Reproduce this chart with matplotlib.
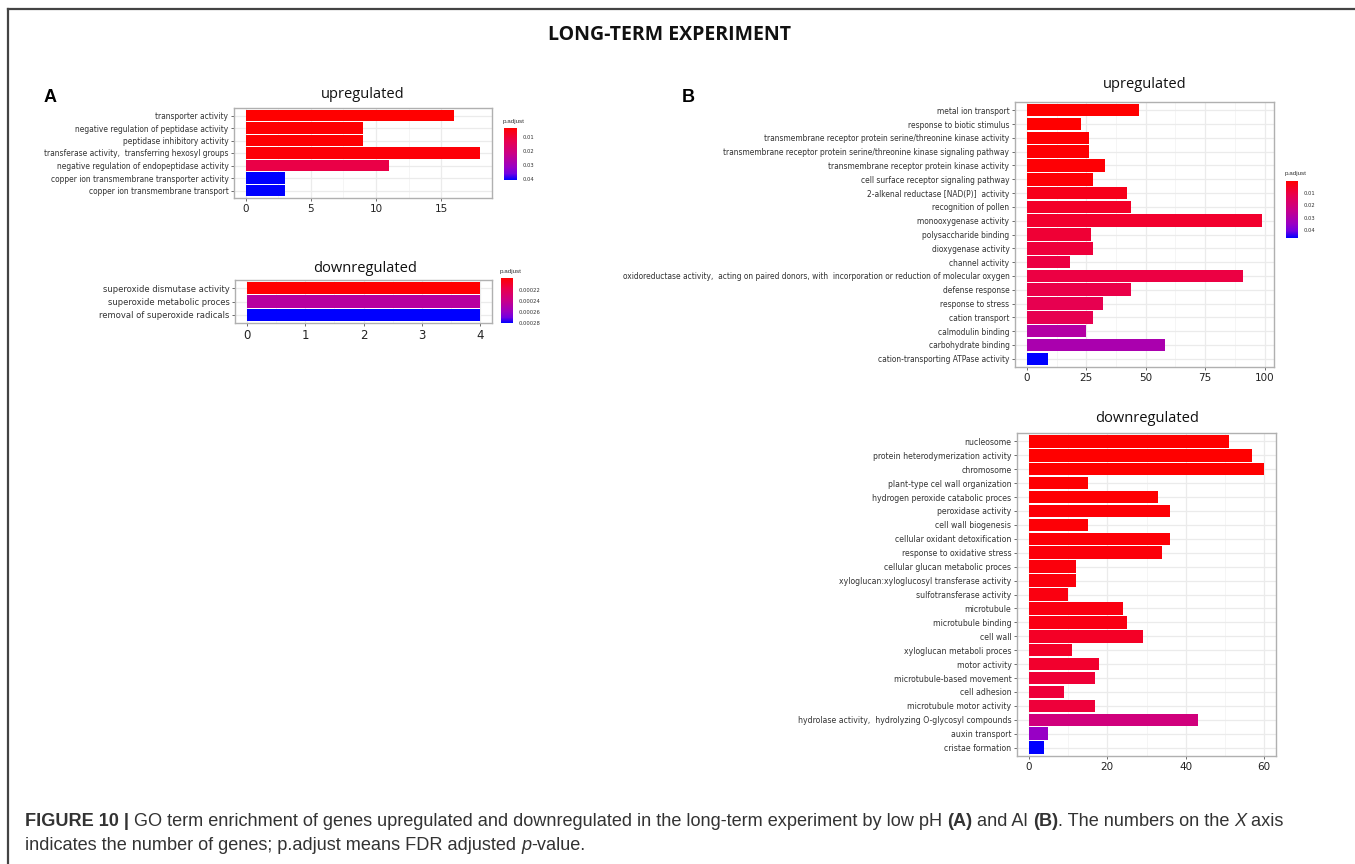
"""GO term enrichment bar charts, long-term experiment (low pH / Al)."""

import matplotlib

matplotlib.use("Agg")
import matplotlib.pyplot as plt
import numpy as np
from matplotlib.cm import ScalarMappable
from matplotlib.colors import LinearSegmentedColormap, Normalize
from matplotlib.lines import Line2D

# ---- data -----------------------------------------------------------------
a_up_terms = [
    "transporter activity",
    "negative regulation of peptidase activity",
    "peptidase inhibitory activity",
    "transferase activity,  transferring hexosyl groups",
    "negative regulation of endopeptidase activity",
    "copper ion transmembrane transporter activity",
    "copper ion transmembrane transport",
]
a_up_counts = [16, 9, 9, 18, 11, 3, 3]
a_up_padj = [0.0036, 0.0040, 0.0040, 0.0045, 0.012, 0.0407, 0.0407]

a_down_terms = [
    "superoxide dismutase activity",
    "superoxide metabolic proces",
    "removal of superoxide radicals",
]
a_down_counts = [4, 4, 4]
a_down_padj = [0.000198, 0.000247, 0.00028]

b_up_terms = [
    "metal ion transport",
    "response to biotic stimulus",
    "transmembrane receptor protein serine/threonine kinase activity",
    "transmembrane receptor protein serine/threonine kinase signaling pathway",
    "transmembrane receptor protein kinase activity",
    "cell surface receptor signaling pathway",
    "2-alkenal reductase [NAD(P)]  activity",
    "recognition of pollen",
    "monooxygenase activity",
    "polysaccharide binding",
    "dioxygenase activity",
    "channel activity",
    "oxidoreductase activity,  acting on paired donors, with  incorporation or reduction of molecular oxygen",
    "defense response",
    "response to stress",
    "cation transport",
    "calmodulin binding",
    "carbohydrate binding",
    "cation-transporting ATPase activity",
]
b_up_counts = [47, 23, 26, 26, 33, 28, 42, 44, 99, 27, 28, 18, 91, 44, 32, 28, 25, 58, 9]
b_up_padj = [0.0001, 0.0002, 0.0005, 0.0005, 0.001, 0.001, 0.004, 0.006, 0.007,
             0.008, 0.009, 0.010, 0.010, 0.011, 0.012, 0.012, 0.029, 0.031, 0.0467]

b_down_terms = [
    "nucleosome",
    "protein heterodymerization activity",
    "chromosome",
    "plant-type cel wall organization",
    "hydrogen peroxide catabolic proces",
    "peroxidase activity",
    "cell wall biogenesis",
    "cellular oxidant detoxification",
    "response to oxidative stress",
    "cellular glucan metabolic proces",
    "xyloglucan:xyloglucosyl transferase activity",
    "sulfotransferase activity",
    "microtubule",
    "microtubule binding",
    "cell wall",
    "xyloglucan metaboli proces",
    "motor activity",
    "microtubule-based movement",
    "cell adhesion",
    "microtubule motor activity",
    "hydrolase activity,  hydrolyzing O-glycosyl compounds",
    "auxin transport",
    "cristae formation",
]
b_down_counts = [51, 57, 60, 15, 33, 36, 15, 36, 34, 12, 12, 10, 24, 25, 29, 11, 18, 17, 9, 17, 43, 5, 4]
b_down_padj = [0.0010, 0.0010, 0.0010, 0.0015, 0.0015, 0.0020, 0.0020, 0.0020, 0.0025,
               0.0030, 0.0030, 0.0035, 0.0035, 0.0040, 0.0070, 0.0075, 0.0080, 0.0095,
               0.0100, 0.0100, 0.0230, 0.0380, 0.0500]

# ---- style ----------------------------------------------------------------
W, H = 1355, 864
LABEL_FONT = "DejaVu Sans"
TITLE_FONT = "Open Sans"

# red -> blue gradient interpolated in Lab space (like ggplot)
cmap = LinearSegmentedColormap.from_list(
    "padj", [(0, "#FF0000"), (0.25, "#E8004F"), (0.5, "#C90088"),
             (0.75, "#9A00C3"), (0.875, "#7300E1"), (1, "#0000FF")])

fig = plt.figure(figsize=(W / 100, H / 100), dpi=100)
renderer = fig.canvas.get_renderer()


def box(l, t, r, b):
    return [l / W, 1 - b / H, (r - l) / W, (b - t) / H]


def ftext(x, y, s, **kw):
    return fig.text(x / W, 1 - y / H, s, **kw)


def bar_panel(rect, terms, counts, padj, xlim, xticks, title, title_xy,
              label_width, tick_fs):
    ax = fig.add_axes(box(*rect))
    n = len(terms)
    y = np.arange(n)
    norm = Normalize(min(padj), max(padj))
    ax.barh(y, counts, height=0.9, color=cmap(norm(np.array(padj))), zorder=2)
    ax.set_ylim(n - 0.4, -0.6)
    ax.set_xlim(*xlim)
    ax.set_yticks(y, terms, family=LABEL_FONT, fontstretch="condensed",
                  color="#333333", fontsize=7)
    ax.set_xticks(xticks, [str(v) for v in xticks], fontsize=tick_fs, color="#222222")
    ax.set_xticks([(a + b) / 2 for a, b in zip(xticks[:-1], xticks[1:])], minor=True)
    ax.grid(True, which="major", color="#EBEBEB", lw=0.9)
    ax.grid(True, which="minor", axis="x", color="#F4F4F4", lw=0.6)
    ax.set_axisbelow(True)
    for sp in ax.spines.values():
        sp.set_color("#B0B0B0")
        sp.set_linewidth(1.0)
    ax.tick_params(which="major", length=2.5, width=0.6, color="#555555", pad=1.5)
    ax.tick_params(which="minor", length=0)
    # fit label size to the measured label column width
    widest = max(t.get_window_extent(renderer).width for t in ax.get_yticklabels())
    fs = 7 * label_width / widest
    for t in ax.get_yticklabels():
        t.set_fontsize(fs)
    ftext(*title_xy, title, ha="center", va="center", fontsize=10.5,
          family=TITLE_FONT, color="#111111")
    return ax


def pbar(rect, padj, ticks, labels, label_xy):
    cax = fig.add_axes(box(*rect))
    sm = ScalarMappable(norm=Normalize(min(padj), max(padj)), cmap=cmap)
    cb = fig.colorbar(sm, cax=cax)
    cb.outline.set_visible(False)
    cb.set_ticks(ticks, labels=labels)
    cax.invert_yaxis()
    cax.tick_params(length=2, width=0.5, color="white", labelsize=3.8,
                    labelcolor="#333333", pad=2)
    ftext(*label_xy, "p.adjust", ha="left", va="center", fontsize=4.5,
          family="Liberation Sans", color="#333333")


# ---- panels -----------------------------------------------------------------
bar_panel((234, 108, 492, 198), a_up_terms, a_up_counts, a_up_padj,
          (-0.9, 18.9), [0, 5, 10, 15], "upregulated", (363, 95), 185, 7.5)
pbar((504, 128, 517, 180), a_up_padj, [0.01, 0.02, 0.03, 0.04],
     ["0.01", "0.02", "0.03", "0.04"], (503, 122))

bar_panel((235, 280, 492, 323), a_down_terms, a_down_counts, a_down_padj,
          (-0.2, 4.2), [0, 1, 2, 3, 4], "downregulated", (365, 268), 130, 8.5)
pbar((501, 278, 513, 323), a_down_padj, [0.00022, 0.00024, 0.00026, 0.00028],
     ["0.00022", "0.00024", "0.00026", "0.00028"], (500, 272))

bar_panel((1015, 102, 1274, 367), b_up_terms, b_up_counts, b_up_padj,
          (-4.95, 103.95), [0, 25, 50, 75, 100], "upregulated", (1145, 85), 392, 7.5)
pbar((1286, 181, 1298, 238), b_up_padj, [0.01, 0.02, 0.03, 0.04],
     ["0.01", "0.02", "0.03", "0.04"], (1285, 174))

bar_panel((1017, 433, 1276, 756), b_down_terms, b_down_counts, b_down_padj,
          (-3, 63), [0, 20, 40, 60], "downregulated", (1147, 419), 213, 7.5)

# ---- figure decorations --------------------------------------------------------
ftext(670, 35, "LONG-TERM EXPERIMENT", ha="center", va="center", fontsize=14,
      fontweight="bold", family=TITLE_FONT, color="#111111")
ftext(50, 98, "A", ha="center", va="center", fontsize=13, fontweight="bold",
      family="Liberation Sans")
ftext(688, 98, "B", ha="center", va="center", fontsize=13, fontweight="bold",
      family="Liberation Sans")

fig.add_artist(Line2D([8 / W, 8 / W], [0, 1 - 9 / H], transform=fig.transFigure,
                      color="#444444", lw=1.6))
fig.add_artist(Line2D([8 / W, 1], [1 - 9 / H, 1 - 9 / H], transform=fig.transFigure,
                      color="#444444", lw=1.6))

line1 = [("FIGURE 10 |", "bold", "normal"),
         (" GO term enrichment of genes upregulated and downregulated in the long-term "
          "experiment by low pH ", "normal", "normal"),
         ("(A)", "bold", "normal"), (" and Al ", "normal", "normal"),
         ("(B)", "bold", "normal"), (". The numbers on the ", "normal", "normal"),
         ("X", "normal", "italic"), (" axis", "normal", "normal")]
line2 = [("indicates the number of genes; p.adjust means FDR adjusted ", "normal", "normal"),
         ("p", "normal", "italic"), ("-value.", "normal", "normal")]


def caption_line(pieces, x0, y, fs):
    x = x0
    for s, weight, style in pieces:
        t = ftext(x, y, s, ha="left", va="center", fontsize=fs, fontweight=weight,
                  fontstyle=style, family="Liberation Sans", color="#333333")
        x += t.get_window_extent(renderer).width
    return x - x0


# size the caption so the first line spans the measured width
probe = fig.text(0, 0, "".join(p[0] for p in line1), fontsize=12, family="Liberation Sans")
cap_fs = 12 * 1263 / probe.get_window_extent(renderer).width
probe.remove()
caption_line(line1, 25, 821, cap_fs)
caption_line(line2, 25, 846, cap_fs)

fig.savefig("out.png", dpi=100, facecolor="white")
plt.close(fig)
